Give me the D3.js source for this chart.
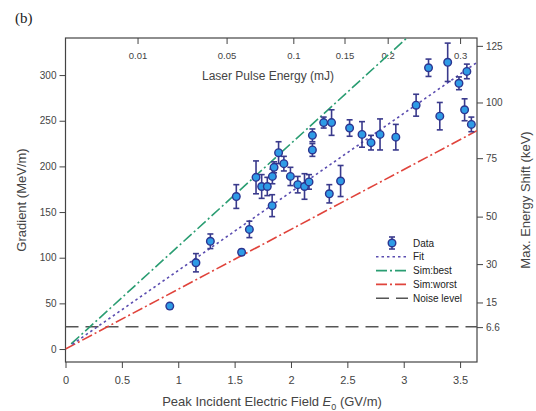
<!DOCTYPE html>
<html>
<head>
<meta charset="utf-8">
<script src="https://cdn.jsdelivr.net/npm/d3@7"></script>
<style>
  body { margin: 0; background: #fff; }
  svg text { font-family: "Liberation Sans", Arial, sans-serif; fill: #444; }
  .axis path, .axis line { stroke: #444; }
</style>
</head>
<body>
<div id="chart"></div>
<script>
// data
var fieldE   = [0.925, 1.157, 1.285, 1.562, 1.631, 1.515, 1.69, 1.74, 1.79, 1.835, 1.85, 1.833, 1.89, 1.937, 1.995, 2.06, 2.12, 2.16, 2.19, 2.19, 2.29, 2.36, 2.34, 2.44, 2.52, 2.63, 2.71, 2.79, 2.93, 3.11, 3.22, 3.32, 3.39, 3.49, 3.56, 3.54, 3.6];
var gradient = [47, 94.5, 118, 106, 131, 167, 188, 178, 178, 189, 199, 157, 215, 203, 189, 180, 178, 183, 218, 234, 248, 248, 170, 184, 242, 235, 226, 235, 232, 267, 308, 255, 314, 291, 304, 262, 246];
var gradErr  = [3, 10, 8, 3, 9, 13, 18, 13, 10, 8, 6, 12, 12, 8, 10, 9, 14, 8, 7, 7, 6, 14, 10, 17, 9, 14, 8, 17, 14, 12, 9.5, 15, 21, 7, 8, 12, 8];

var leftTicks = [0, 50, 100, 150, 200, 250, 300];
var bottomTicks = [0, 0.5, 1, 1.5, 2, 2.5, 3, 3.5];
var energyTicks = [0.01, 0.05, 0.1, 0.15, 0.2, 0.3];   // mJ
var energyFactor = 6.39;                                 // E0 = k * sqrt(mJ)
var shiftLabels = ["6.6", "15", "30", "50", "75", "100", "125"];
var shiftGrad = [24, 51, 93, 145, 209, 270, 332];        // where each keV tick sits on gradient scale

var noiseLevel = 24.4;
var fitSlope = 86, bestSlope = 112.5, worstSlope = 65.5;

var svgWidth = 536;
var svgHeight = 411;

var margin = { top: 38, right: 59, bottom: 49, left: 65.5 };
var width = svgWidth - margin.left - margin.right;
var height = svgHeight - margin.top - margin.bottom;

var svg = d3.select("#chart")
  .append("svg")
  .attr("width", svgWidth)
  .attr("height", svgHeight);

var chartGroup = svg.append("g")
  .attr("transform", `translate(${margin.left},${margin.top})`);

var xMax = 3.65;
var xScale = d3.scaleLinear().domain([0, xMax]).range([0, width]);
var yScale = d3.scaleLinear().domain([-14.2, 340.6]).range([height, 0]);
var topScale = d3.scaleSqrt().domain([0, Math.pow(xMax / energyFactor, 2)]).range([0, width]);

chartGroup.append("clipPath").attr("id", "plotclip")
  .append("rect").attr("width", width).attr("height", height);

// axes
chartGroup.append("g")
  .attr("class", "axis")
  .call(d3.axisLeft(yScale).tickValues(leftTicks).tickSize(6).tickPadding(3))
  .call(g => g.select(".domain").remove())
  .selectAll("text").style("font-size", "10px");

chartGroup.append("g")
  .attr("class", "axis")
  .attr("transform", `translate(0,${height})`)
  .call(d3.axisBottom(xScale).tickValues(bottomTicks).tickFormat(d3.format("")).tickSize(6).tickPadding(8))
  .call(g => g.select(".domain").remove())
  .selectAll("text").style("font-size", "11px");

chartGroup.append("g")
  .attr("class", "axis")
  .call(d3.axisBottom(topScale).tickValues(energyTicks).tickFormat(d3.format("")).tickSize(6).tickPadding(8))
  .call(g => g.select(".domain").remove())
  .selectAll("text").style("font-size", "9.5px");

chartGroup.append("g")
  .attr("class", "axis")
  .attr("transform", `translate(${width},0)`)
  .call(d3.axisRight(yScale).tickValues(shiftGrad).tickFormat((d, i) => shiftLabels[i]).tickSize(6).tickPadding(3))
  .call(g => g.select(".domain").remove())
  .selectAll("text").style("font-size", "10px");

chartGroup.append("rect")
  .attr("width", width)
  .attr("height", height)
  .attr("fill", "none")
  .attr("stroke", "#444")
  .attr("stroke-width", 1.2);

// lines
var lineGen = d3.line().x(d => xScale(d[0])).y(d => yScale(d[1]));
var linesGroup = chartGroup.append("g").attr("clip-path", "url(#plotclip)");

linesGroup.append("path")
  .datum([[0, noiseLevel], [xMax, noiseLevel]])
  .attr("d", lineGen)
  .attr("fill", "none")
  .attr("stroke", "#555")
  .attr("stroke-width", 1.6)
  .attr("stroke-dasharray", "13,7");

linesGroup.append("path")
  .datum([[0.05, 0.05 * bestSlope], [xMax, xMax * bestSlope]])
  .attr("d", lineGen)
  .attr("fill", "none")
  .attr("stroke", "#2a9d72")
  .attr("stroke-width", 1.6)
  .attr("stroke-dasharray", "11,3,2,3");

linesGroup.append("path")
  .datum([[0, 0], [xMax, xMax * worstSlope]])
  .attr("d", lineGen)
  .attr("fill", "none")
  .attr("stroke", "#e0443c")
  .attr("stroke-width", 1.6)
  .attr("stroke-dasharray", "11,3,2,3");

linesGroup.append("path")
  .datum([[0.06, 0.06 * fitSlope], [xMax, xMax * fitSlope]])
  .attr("d", lineGen)
  .attr("fill", "none")
  .attr("stroke", "#5b4db0")
  .attr("stroke-width", 1.6)
  .attr("stroke-dasharray", "2.5,3");

// data points with error bars
var points = fieldE.map((e, i) => ({ e: e, g: gradient[i], err: gradErr[i] }));

var errGroup = chartGroup.selectAll(".err")
  .data(points)
  .enter()
  .append("g")
  .attr("class", "err")
  .attr("stroke", "#3a3a8c")
  .attr("stroke-width", 1.6);

errGroup.append("line")
  .attr("x1", d => xScale(d.e)).attr("x2", d => xScale(d.e))
  .attr("y1", d => yScale(d.g - d.err)).attr("y2", d => yScale(d.g + d.err));
errGroup.append("line")
  .attr("x1", d => xScale(d.e) - 3).attr("x2", d => xScale(d.e) + 3)
  .attr("y1", d => yScale(d.g - d.err)).attr("y2", d => yScale(d.g - d.err));
errGroup.append("line")
  .attr("x1", d => xScale(d.e) - 3).attr("x2", d => xScale(d.e) + 3)
  .attr("y1", d => yScale(d.g + d.err)).attr("y2", d => yScale(d.g + d.err));

chartGroup.selectAll("circle.pt")
  .data(points)
  .enter()
  .append("circle")
  .attr("class", "pt")
  .attr("cx", d => xScale(d.e))
  .attr("cy", d => yScale(d.g))
  .attr("r", 3.8)
  .attr("fill", "#2e9be6")
  .attr("stroke", "#2c3590")
  .attr("stroke-width", 1.4);

// legend
var legend = svg.append("g").attr("transform", "translate(376,243)");
var legendItems = [
  { label: "Data", type: "data" },
  { label: "Fit", color: "#5b4db0", dash: "2.5,3" },
  { label: "Sim:best", color: "#2a9d72", dash: "11,3,2,3" },
  { label: "Sim:worst", color: "#e0443c", dash: "11,3,2,3" },
  { label: "Noise level", color: "#555", dash: "13,7" }
];
legendItems.forEach((item, i) => {
  var row = legend.append("g").attr("transform", `translate(0,${i * 13.8})`);
  if (item.type === "data") {
    row.append("line").attr("x1", 16).attr("x2", 16).attr("y1", -6).attr("y2", 6)
      .attr("stroke", "#3a3a8c").attr("stroke-width", 1.6);
    row.append("line").attr("x1", 13).attr("x2", 19).attr("y1", -6).attr("y2", -6)
      .attr("stroke", "#3a3a8c").attr("stroke-width", 1.6);
    row.append("line").attr("x1", 13).attr("x2", 19).attr("y1", 6).attr("y2", 6)
      .attr("stroke", "#3a3a8c").attr("stroke-width", 1.6);
    row.append("circle").attr("cx", 16).attr("cy", 0).attr("r", 3.8)
      .attr("fill", "#2e9be6").attr("stroke", "#2c3590").attr("stroke-width", 1.4);
  } else {
    row.append("line").attr("x1", 0).attr("x2", 32).attr("y1", 0).attr("y2", 0)
      .attr("stroke", item.color).attr("stroke-width", 1.6)
      .attr("stroke-dasharray", item.dash);
  }
  row.append("text").attr("x", 37).attr("y", 3.5)
    .style("font-size", "10px").style("fill", "#222")
    .text(item.label);
});

// titles
svg.append("text")
  .attr("x", 15).attr("y", 23)
  .style("font-family", "'Liberation Serif', 'DejaVu Serif', serif")
  .style("font-size", "15px").style("fill", "#222")
  .text("(b)");

svg.append("text")
  .attr("x", 268).attr("y", 80)
  .attr("text-anchor", "middle")
  .style("font-size", "12px")
  .text("Laser Pulse Energy (mJ)");

svg.append("text")
  .attr("transform", "translate(26,200) rotate(-90)")
  .attr("text-anchor", "middle")
  .style("font-size", "13px")
  .text("Gradient (MeV/m)");

svg.append("text")
  .attr("transform", "translate(530,200) rotate(-90)")
  .attr("text-anchor", "middle")
  .style("font-size", "13px")
  .text("Max. Energy Shift (keV)");

var xTitle = svg.append("text")
  .attr("x", 272).attr("y", 406)
  .attr("text-anchor", "middle")
  .style("font-size", "13px");
xTitle.append("tspan").text("Peak Incident Electric Field ");
xTitle.append("tspan").style("font-style", "italic").text("E");
xTitle.append("tspan").attr("dy", 4).style("font-size", "9px").text("0");
xTitle.append("tspan").attr("dy", -4).text(" (GV/m)");
</script>
</body>
</html>
